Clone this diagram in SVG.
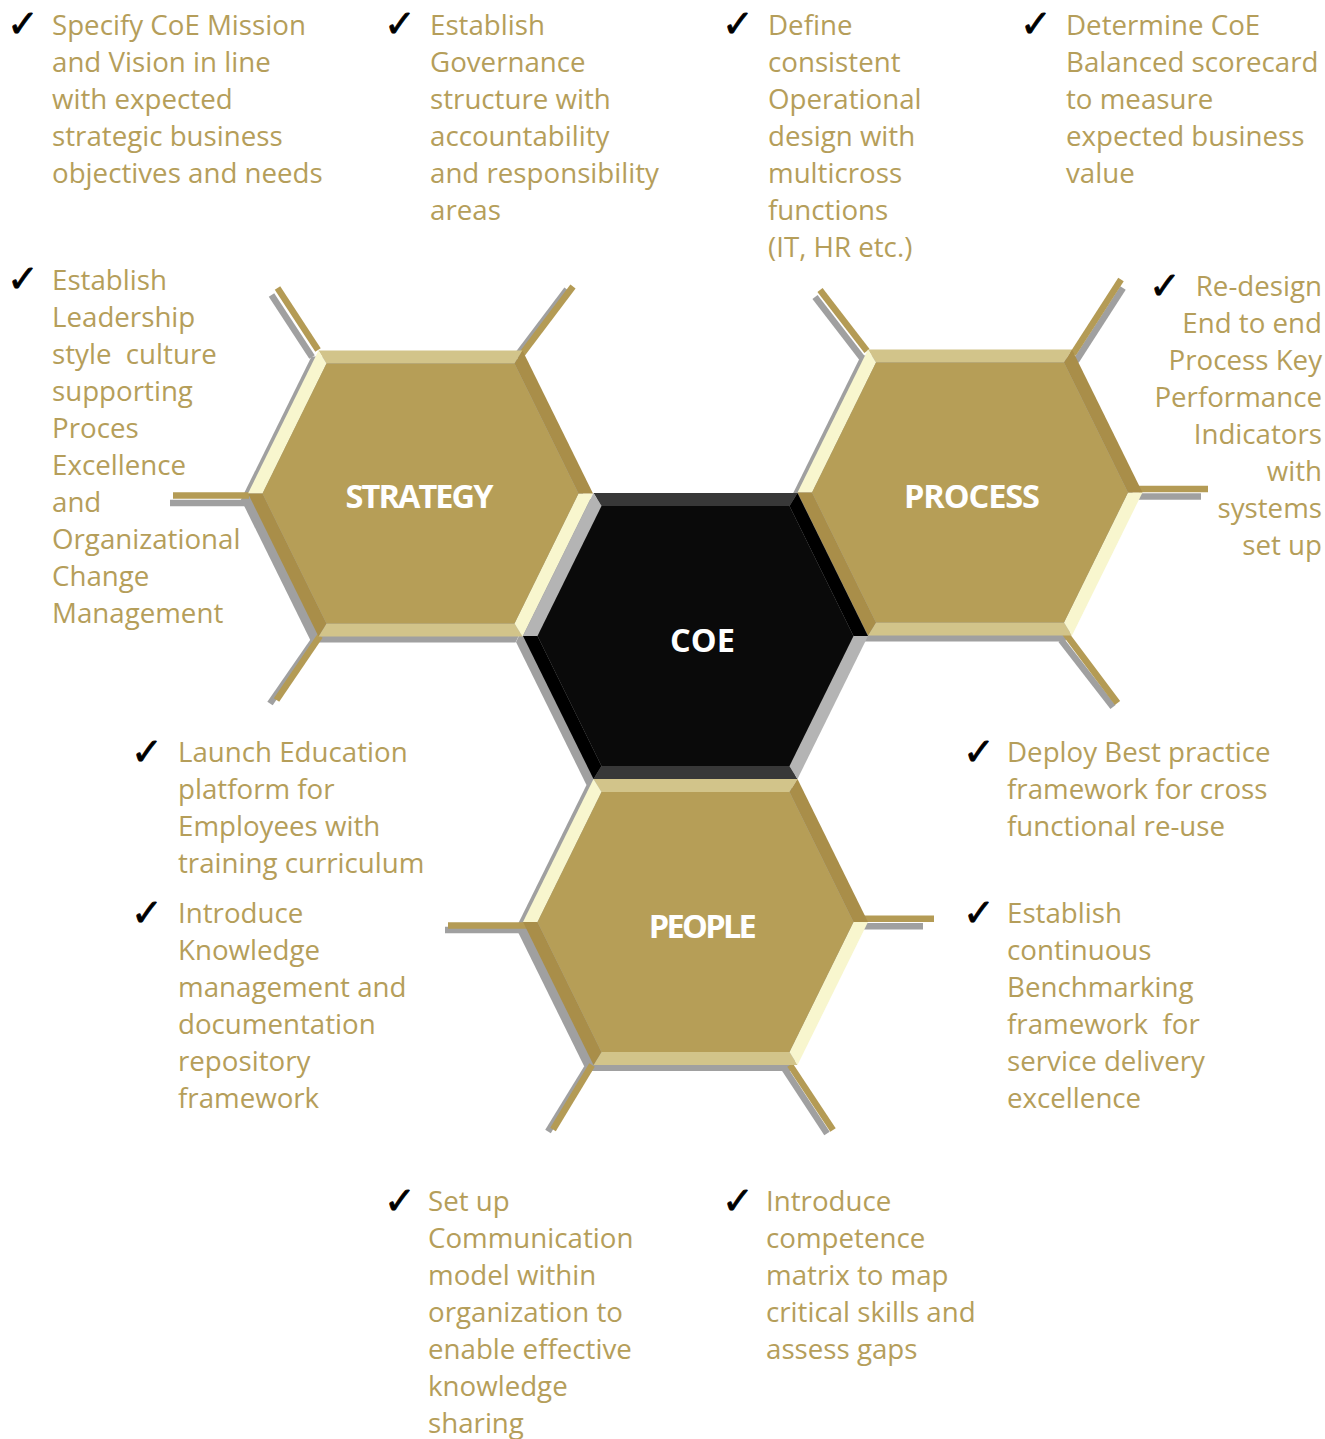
<svg xmlns="http://www.w3.org/2000/svg" width="1325" height="1439" viewBox="0 0 1325 1439">
  <style>
    .txt { font-family: "Open Sans", "Noto Sans", "Liberation Sans", sans-serif; font-size: 27.7px; fill: #B59E5A; }
    .chk { font-family: "DejaVu Sans", sans-serif; font-size: 38px; fill: #000; stroke: #000; stroke-width: 0.8; }
    .lbl { font-family: "Open Sans", "Liberation Sans", sans-serif; font-weight: 700; font-size: 32.5px; fill: #fff; text-anchor: middle; }
    .spoke { stroke: #B49B55; stroke-width: 6.5; fill: none; }
    .spoke-sh { stroke: #A0A0A0; stroke-width: 6.5; fill: none; }
    .hex-sh { fill: #A0A0A0; }
    /* gold hexagon faces */
    .gold .face { fill: #B69E57; }
    .gold .tb { fill: #D2C48A; }
    .gold .lite { fill: #F8F6CE; }
    .gold .dark { fill: #A98E49; }
    /* black centre hexagon faces */
    .core .face { fill: #0A0A0A; }
    .core .tb { fill: #383838; }
    .core .lite { fill: #B4B4B4; }
    .core .dark { fill: #000000; }
  </style>
  <defs>
    <!-- flat-topped hexagon outline, centred on the origin -->
    <polygon id="hx-outer" points="-172.5,0 -102,-143 102,-143 172.5,0 102,143 -102,143"/>
  </defs>

  <!-- drop shadows of hexagons -->
  <g id="shadows">
    <use href="#hx-outer" class="hex-sh" transform="translate(413.5,499.5)"/>
    <use href="#hx-outer" class="hex-sh" transform="translate(963,498.5)"/>
    <use href="#hx-outer" class="hex-sh" transform="translate(688.5,642)"/>
    <use href="#hx-outer" class="hex-sh" transform="translate(688.5,928)"/>
  </g>

  <!-- connector stubs radiating from the outer hexagons -->
  <g id="connectors">
    <g class="spoke-sh">
      <line x1="312" y1="357" x2="271.5" y2="295"/>
      <line x1="516" y1="357" x2="567" y2="289.5"/>
      <line x1="246" y1="503" x2="170" y2="503"/>
      <line x1="314" y1="640" x2="270" y2="703.5"/>
      <line x1="862" y1="358" x2="815" y2="297"/>
      <line x1="1076" y1="361" x2="1123" y2="288"/>
      <line x1="1135" y1="496.5" x2="1201" y2="496.5"/>
      <line x1="1061" y1="640" x2="1113" y2="707"/>
      <line x1="520" y1="930" x2="445" y2="930"/>
      <line x1="860" y1="926.3" x2="923" y2="926.3"/>
      <line x1="587" y1="1068" x2="548" y2="1131.5"/>
      <line x1="784" y1="1068" x2="827" y2="1133.5"/>
    </g>
    <g class="spoke">
      <line x1="318" y1="350" x2="277.5" y2="288"/>
      <line x1="522" y1="354" x2="573" y2="286.5"/>
      <line x1="249" y1="495.5" x2="173" y2="495.5"/>
      <line x1="320" y1="636" x2="276.5" y2="700"/>
      <line x1="867" y1="351" x2="820" y2="290"/>
      <line x1="1073" y1="354" x2="1121" y2="279.5"/>
      <line x1="1139" y1="489" x2="1208" y2="489"/>
      <line x1="1065" y1="633" x2="1117.5" y2="703"/>
      <line x1="527" y1="925.5" x2="448" y2="925.5"/>
      <line x1="863" y1="918.8" x2="934" y2="918.8"/>
      <line x1="592" y1="1065" x2="553" y2="1129.5"/>
      <line x1="790" y1="1065" x2="833" y2="1130"/>
    </g>
  </g>

  <!-- hexagon nodes: six bevel bands around an inner face -->
  <g id="node-strategy" class="gold">
    <g transform="translate(420.5,493.5)">
      <polygon class="tb" points="-102,-143 102,-143 94,-130 -94,-130"/>
      <polygon class="tb" points="102,143 -102,143 -94,130 94,130"/>
      <polygon class="lite" points="-172.5,0 -102,-143 -94,-130 -158,0"/>
      <polygon class="lite" points="172.5,0 102,143 94,130 158,0"/>
      <polygon class="dark" points="102,-143 172.5,0 158,0 94,-130"/>
      <polygon class="dark" points="-102,143 -172.5,0 -158,0 -94,130"/>
      <polygon class="face" points="-158,0 -94,-130 94,-130 158,0 94,130 -94,130"/>
    </g>
    <text class="lbl" x="419.5" y="508.3" textLength="148" lengthAdjust="spacing">STRATEGY</text>
  </g>
  <g id="node-process" class="gold">
    <g transform="translate(970,492.5)">
      <polygon class="tb" points="-102,-143 102,-143 94,-130 -94,-130"/>
      <polygon class="tb" points="102,143 -102,143 -94,130 94,130"/>
      <polygon class="lite" points="-172.5,0 -102,-143 -94,-130 -158,0"/>
      <polygon class="lite" points="172.5,0 102,143 94,130 158,0"/>
      <polygon class="dark" points="102,-143 172.5,0 158,0 94,-130"/>
      <polygon class="dark" points="-102,143 -172.5,0 -158,0 -94,130"/>
      <polygon class="face" points="-158,0 -94,-130 94,-130 158,0 94,130 -94,130"/>
    </g>
    <text class="lbl" x="972" y="508.3" textLength="136" lengthAdjust="spacing">PROCESS</text>
  </g>
  <g id="node-coe" class="core">
    <g transform="translate(695.5,636)">
      <polygon class="tb" points="-102,-143 102,-143 94,-130 -94,-130"/>
      <polygon class="tb" points="102,143 -102,143 -94,130 94,130"/>
      <polygon class="lite" points="-172.5,0 -102,-143 -94,-130 -158,0"/>
      <polygon class="lite" points="172.5,0 102,143 94,130 158,0"/>
      <polygon class="dark" points="102,-143 172.5,0 158,0 94,-130"/>
      <polygon class="dark" points="-102,143 -172.5,0 -158,0 -94,130"/>
      <polygon class="face" points="-158,0 -94,-130 94,-130 158,0 94,130 -94,130"/>
    </g>
    <text class="lbl" x="702.5" y="652.3">COE</text>
  </g>
  <g id="node-people" class="gold">
    <g transform="translate(695.5,922)">
      <polygon class="tb" points="-102,-143 102,-143 94,-130 -94,-130"/>
      <polygon class="tb" points="102,143 -102,143 -94,130 94,130"/>
      <polygon class="lite" points="-172.5,0 -102,-143 -94,-130 -158,0"/>
      <polygon class="lite" points="172.5,0 102,143 94,130 158,0"/>
      <polygon class="dark" points="102,-143 172.5,0 158,0 94,-130"/>
      <polygon class="dark" points="-102,143 -172.5,0 -158,0 -94,130"/>
      <polygon class="face" points="-158,0 -94,-130 94,-130 158,0 94,130 -94,130"/>
    </g>
    <text class="lbl" x="702.8" y="938.3" textLength="108" lengthAdjust="spacing">PEOPLE</text>
  </g>

  <!-- action items -->
  <g id="item-mission">
    <text class="chk" x="7" y="37">✓</text>
    <text class="txt" x="52" y="35"><tspan x="52">Specify CoE Mission</tspan><tspan x="52" dy="37">and Vision in line</tspan><tspan x="52" dy="37">with expected</tspan><tspan x="52" dy="37">strategic business</tspan><tspan x="52" dy="37">objectives and needs</tspan></text>
  </g>
  <g id="item-governance">
    <text class="chk" x="384" y="37">✓</text>
    <text class="txt" x="430" y="35"><tspan x="430">Establish</tspan><tspan x="430" dy="37">Governance</tspan><tspan x="430" dy="37">structure with</tspan><tspan x="430" dy="37">accountability</tspan><tspan x="430" dy="37">and responsibility</tspan><tspan x="430" dy="37">areas</tspan></text>
  </g>
  <g id="item-operational">
    <text class="chk" x="722" y="37">✓</text>
    <text class="txt" x="768" y="35"><tspan x="768">Define</tspan><tspan x="768" dy="37">consistent</tspan><tspan x="768" dy="37">Operational</tspan><tspan x="768" dy="37">design with</tspan><tspan x="768" dy="37">multicross</tspan><tspan x="768" dy="37">functions</tspan><tspan x="768" dy="37">(IT, HR etc.)</tspan></text>
  </g>
  <g id="item-scorecard">
    <text class="chk" x="1020" y="37">✓</text>
    <text class="txt" x="1066" y="35"><tspan x="1066">Determine CoE</tspan><tspan x="1066" dy="37">Balanced scorecard</tspan><tspan x="1066" dy="37">to measure</tspan><tspan x="1066" dy="37">expected business</tspan><tspan x="1066" dy="37">value</tspan></text>
  </g>
  <g id="item-leadership">
    <text class="chk" x="7" y="292">✓</text>
    <text class="txt" x="52" y="289.5" xml:space="preserve"><tspan x="52">Establish</tspan><tspan x="52" dy="37">Leadership</tspan><tspan x="52" dy="37">style  culture</tspan><tspan x="52" dy="37">supporting</tspan><tspan x="52" dy="37">Proces</tspan><tspan x="52" dy="37">Excellence</tspan><tspan x="52" dy="37">and</tspan><tspan x="52" dy="37">Organizational</tspan><tspan x="52" dy="37">Change</tspan><tspan x="52" dy="37">Management</tspan></text>
  </g>
  <g id="item-kpi">
    <text class="chk" x="1149" y="299">✓</text>
    <text class="txt" x="1322" y="296" text-anchor="end"><tspan x="1322">Re-design</tspan><tspan x="1322" dy="37">End to end</tspan><tspan x="1322" dy="37">Process Key</tspan><tspan x="1322" dy="37">Performance</tspan><tspan x="1322" dy="37">Indicators</tspan><tspan x="1322" dy="37">with</tspan><tspan x="1322" dy="37">systems</tspan><tspan x="1322" dy="37">set up</tspan></text>
  </g>
  <g id="item-education">
    <text class="chk" x="131" y="765">✓</text>
    <text class="txt" x="178" y="762"><tspan x="178">Launch Education</tspan><tspan x="178" dy="37">platform for</tspan><tspan x="178" dy="37">Employees with</tspan><tspan x="178" dy="37">training curriculum</tspan></text>
  </g>
  <g id="item-knowledge">
    <text class="chk" x="131" y="926">✓</text>
    <text class="txt" x="178" y="923"><tspan x="178">Introduce</tspan><tspan x="178" dy="37">Knowledge</tspan><tspan x="178" dy="37">management and</tspan><tspan x="178" dy="37">documentation</tspan><tspan x="178" dy="37">repository</tspan><tspan x="178" dy="37">framework</tspan></text>
  </g>
  <g id="item-bestpractice">
    <text class="chk" x="963" y="765">✓</text>
    <text class="txt" x="1007" y="762"><tspan x="1007">Deploy Best practice</tspan><tspan x="1007" dy="37">framework for cross</tspan><tspan x="1007" dy="37">functional re-use</tspan></text>
  </g>
  <g id="item-benchmarking">
    <text class="chk" x="963" y="926">✓</text>
    <text class="txt" x="1007" y="923" xml:space="preserve"><tspan x="1007">Establish</tspan><tspan x="1007" dy="37">continuous</tspan><tspan x="1007" dy="37">Benchmarking</tspan><tspan x="1007" dy="37">framework  for</tspan><tspan x="1007" dy="37">service delivery</tspan><tspan x="1007" dy="37">excellence</tspan></text>
  </g>
  <g id="item-communication">
    <text class="chk" x="384" y="1214">✓</text>
    <text class="txt" x="428" y="1211"><tspan x="428">Set up</tspan><tspan x="428" dy="37">Communication</tspan><tspan x="428" dy="37">model within</tspan><tspan x="428" dy="37">organization to</tspan><tspan x="428" dy="37">enable effective</tspan><tspan x="428" dy="37">knowledge</tspan><tspan x="428" dy="37">sharing</tspan></text>
  </g>
  <g id="item-competence">
    <text class="chk" x="722" y="1214">✓</text>
    <text class="txt" x="766" y="1211"><tspan x="766">Introduce</tspan><tspan x="766" dy="37">competence</tspan><tspan x="766" dy="37">matrix to map</tspan><tspan x="766" dy="37">critical skills and</tspan><tspan x="766" dy="37">assess gaps</tspan></text>
  </g>
</svg>
